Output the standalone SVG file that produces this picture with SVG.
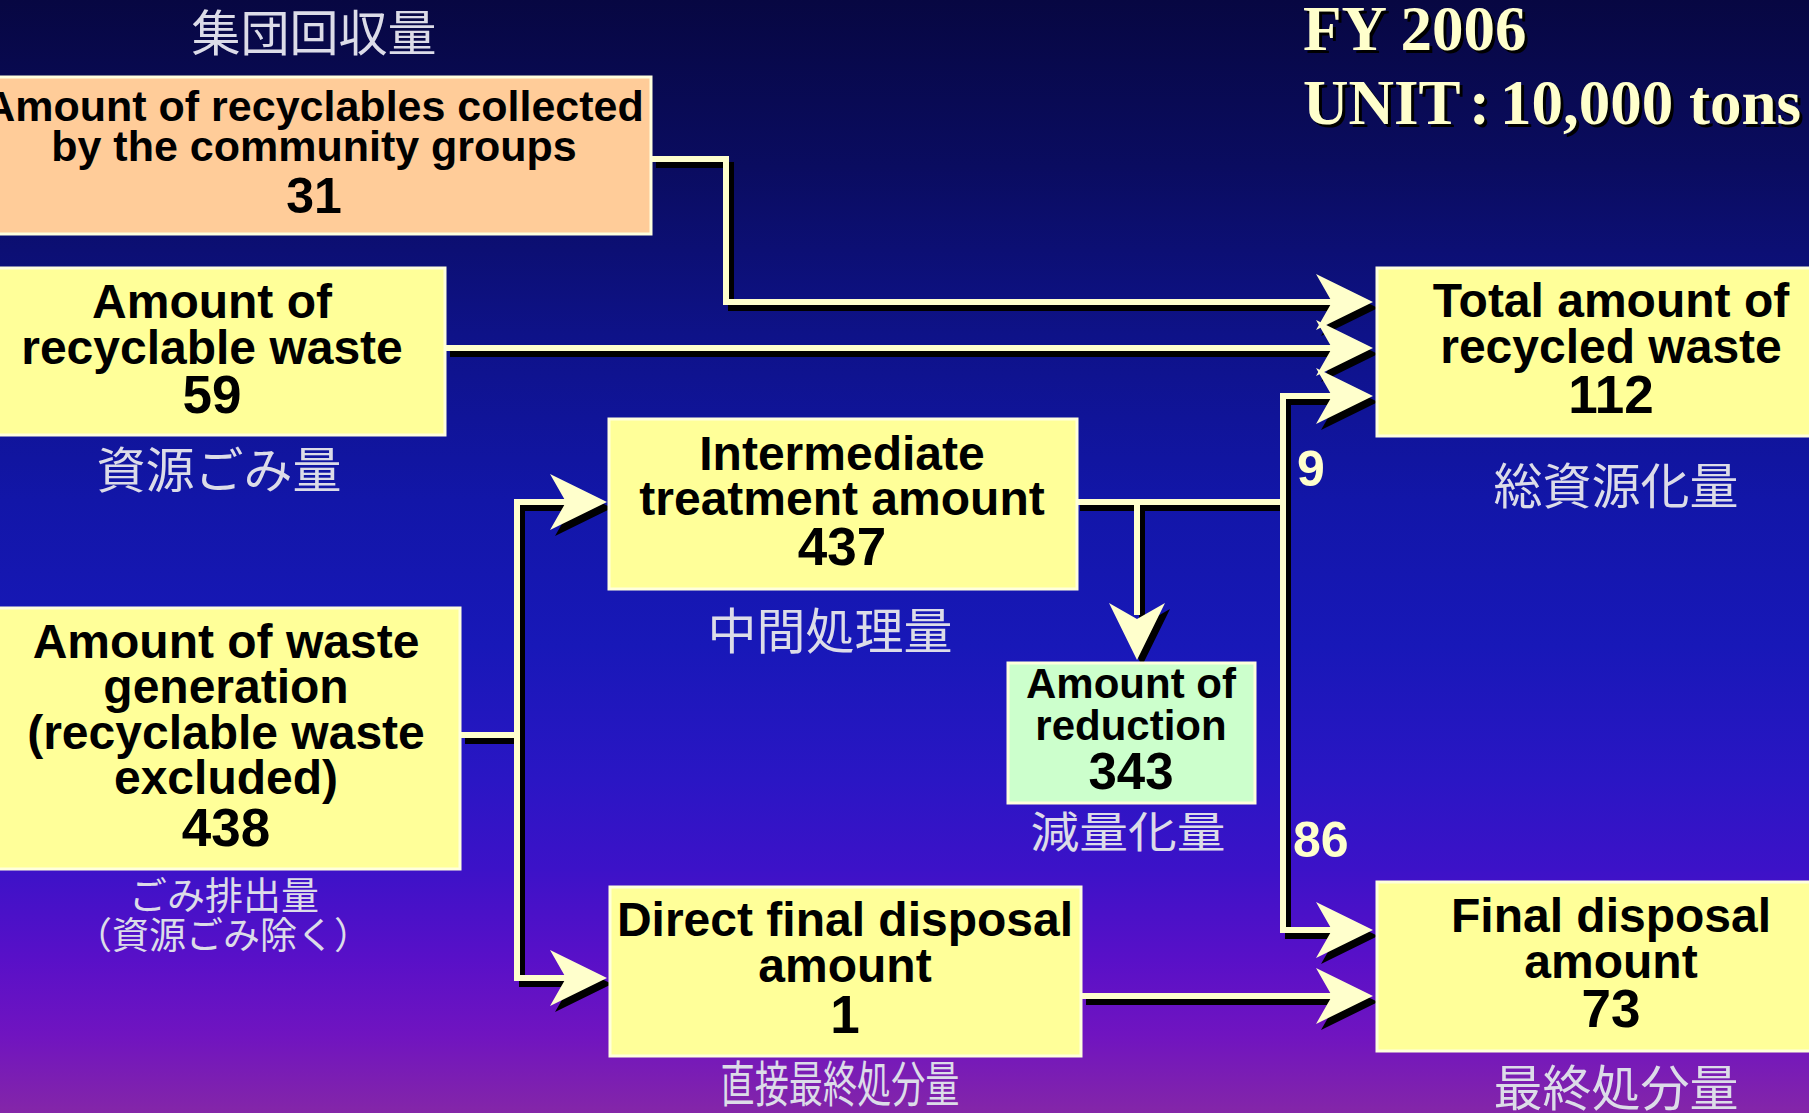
<svg xmlns="http://www.w3.org/2000/svg" width="1809" height="1113" viewBox="0 0 1809 1113">
<defs>
<linearGradient id="bg" x1="0" y1="0" x2="0" y2="1">
<stop offset="0" stop-color="#070742"/>
<stop offset="0.15" stop-color="#0A0C60"/>
<stop offset="0.3" stop-color="#0E1288"/>
<stop offset="0.45" stop-color="#1216A8"/>
<stop offset="0.58" stop-color="#1818B8"/>
<stop offset="0.7" stop-color="#2A16C4"/>
<stop offset="0.78" stop-color="#3C12C8"/>
<stop offset="0.86" stop-color="#5810C8"/>
<stop offset="0.93" stop-color="#7014C0"/>
<stop offset="1" stop-color="#8426A8"/>
</linearGradient>
<path id="ar" d="M0,0 L-57,-28 L-41,0 L-57,28 Z"/>
<path id="ad" d="M0,0 L-28,-57 L0,-41 L28,-57 Z"/>
</defs>
<style>
.box{stroke:#FFFFDD;stroke-width:3}
.y{fill:#FFFF99}
.t{font-family:'Liberation Sans',Arial,sans-serif;font-weight:bold;fill:#000;text-anchor:middle;font-size:48px}
.n{font-size:53px}
.jp{font-family:'Noto Sans CJK JP',sans-serif;fill:#DCDCE8;text-anchor:middle;font-size:49px}
.ln{fill:none;stroke:#FFFFCC;stroke-width:6}
.sh{fill:none;stroke:#000;stroke-width:6}
.ah{fill:#FFFFCC}
.ahs{fill:#000}
.lab{font-family:'Liberation Sans',Arial,sans-serif;font-weight:bold;fill:#FFFFCC;font-size:50px}
.hd{font-family:'Liberation Serif','Times New Roman',serif;font-weight:bold;font-size:63px}
</style>
<rect x="0" y="0" width="1809" height="1113" fill="url(#bg)"/>

<g id="title">
<g fill="#000" class="hd" transform="translate(3,3)">
<text x="1303" y="50" class="hd">FY 2006</text>
<text x="1303" y="124" class="hd">UNIT<tspan x="1469">:</tspan><tspan x="1500">10,000 tons</tspan></text>
</g>
<g fill="#FFFFCC">
<text x="1303" y="50" class="hd">FY 2006</text>
<text x="1303" y="124" class="hd">UNIT<tspan x="1469">:</tspan><tspan x="1500">10,000 tons</tspan></text>
</g>
</g>

<g id="connectors">
<g class="sh" transform="translate(5,6)">
<path d="M651,159 H726 V302 H1335"/>
<path d="M445,348 H1335"/>
<path d="M1075,502 H1283"/>
<path d="M1335,396 H1283 V930 H1335"/>
<path d="M1137,502 V615"/>
<path d="M460,735 H517"/>
<path d="M570,502 H517 V978 H570"/>
<path d="M1081,996 H1335"/>
</g>
<g class="ln">
<path d="M651,159 H726 V302 H1335"/>
<path d="M445,348 H1335"/>
<path d="M1075,502 H1283"/>
<path d="M1335,396 H1283 V930 H1335"/>
<path d="M1137,502 V615"/>
<path d="M460,735 H517"/>
<path d="M570,502 H517 V978 H570"/>
<path d="M1081,996 H1335"/>
</g>
<use href="#ar" class="ahs" x="1378" y="308"/><use href="#ar" class="ah" x="1373" y="302"/>
<use href="#ar" class="ahs" x="1378" y="354"/><use href="#ar" class="ah" x="1373" y="348"/>
<use href="#ar" class="ahs" x="1378" y="402"/><use href="#ar" class="ah" x="1373" y="396"/>
<use href="#ar" class="ahs" x="1378" y="936"/><use href="#ar" class="ah" x="1373" y="930"/>
<use href="#ar" class="ahs" x="1378" y="1002"/><use href="#ar" class="ah" x="1373" y="996"/>
<use href="#ar" class="ahs" x="612" y="508"/><use href="#ar" class="ah" x="607" y="502"/>
<use href="#ar" class="ahs" x="612" y="984"/><use href="#ar" class="ah" x="607" y="978"/>
<use href="#ad" class="ahs" x="1142" y="666"/><use href="#ad" class="ah" x="1137" y="660"/>
<text class="lab" x="1297" y="486">9</text>
<text class="lab" x="1293" y="857">86</text>
</g>

<g id="n-community">
<rect class="box" x="-5" y="77" width="656" height="157" fill="#FFCC99"/>
<text class="t" x="314" y="121" style="font-size:43px">Amount of recyclables collected</text>
<text class="t" x="314" y="161" style="font-size:43px">by the community groups</text>
<text class="t" x="314" y="213" style="font-size:50px">31</text>
<text class="jp" x="314" y="51">集団回収量</text>
</g>

<g id="n-recyclable">
<rect class="box y" x="-5" y="268" width="450" height="167"/>
<text class="t" x="212" y="318">Amount of</text>
<text class="t" x="212" y="364">recyclable waste</text>
<text class="t n" x="212" y="413">59</text>
<text class="jp" x="219" y="488">資源ごみ量</text>
</g>

<g id="n-total">
<rect class="box y" x="1377" y="268" width="440" height="168"/>
<text class="t" x="1611" y="317">Total amount of</text>
<text class="t" x="1611" y="363">recycled waste</text>
<text class="t n" x="1611" y="413">112</text>
<text class="jp" x="1616" y="504">総資源化量</text>
</g>

<g id="n-intermediate">
<rect class="box y" x="609" y="419" width="468" height="170"/>
<text class="t" x="842" y="470">Intermediate</text>
<text class="t" x="842" y="515">treatment amount</text>
<text class="t n" x="842" y="565">437</text>
<text class="jp" x="830" y="649">中間処理量</text>
</g>

<g id="n-reduction">
<rect class="box" x="1008" y="663" width="247" height="140" fill="#CCFFCC"/>
<text class="t" x="1131" y="698" style="font-size:42px">Amount of</text>
<text class="t" x="1131" y="740" style="font-size:42px">reduction</text>
<text class="t" x="1131" y="789" style="font-size:51px">343</text>
<text class="jp" x="1128" y="848" style="font-size:43px" textLength="195" lengthAdjust="spacingAndGlyphs">減量化量</text>
</g>

<g id="n-generation">
<rect class="box y" x="-5" y="608" width="465" height="261"/>
<text class="t" x="226" y="658">Amount of waste</text>
<text class="t" x="226" y="703">generation</text>
<text class="t" x="226" y="749">(recyclable waste</text>
<text class="t" x="226" y="794">excluded)</text>
<text class="t n" x="226" y="846">438</text>
<text class="jp" x="224" y="909" style="font-size:38px">ごみ排出量</text>
<text class="jp" x="223" y="949" style="font-size:37px">（資源ごみ除く）</text>
</g>

<g id="n-direct">
<rect class="box y" x="610" y="887" width="471" height="169"/>
<text class="t" x="845" y="936">Direct final disposal</text>
<text class="t" x="845" y="982">amount</text>
<text class="t n" x="845" y="1033">1</text>
<text class="jp" x="840" y="1102" textLength="239" lengthAdjust="spacingAndGlyphs">直接最終処分量</text>
</g>

<g id="n-final">
<rect class="box y" x="1377" y="882" width="440" height="169"/>
<text class="t" x="1611" y="932">Final disposal</text>
<text class="t" x="1611" y="978">amount</text>
<text class="t n" x="1611" y="1027">73</text>
<text class="jp" x="1616" y="1106">最終処分量</text>
</g>
</svg>
